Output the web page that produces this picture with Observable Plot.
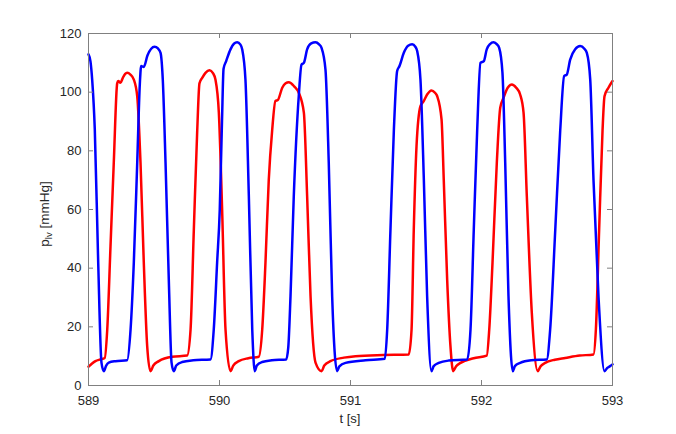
<!DOCTYPE html>
<html>
<head>
<meta charset="utf-8">
<script src="https://cdn.jsdelivr.net/npm/d3@7"></script>
<script src="https://cdn.jsdelivr.net/npm/@observablehq/plot@0.6"></script>
<style>
  html, body { margin: 0; padding: 0; background: #ffffff; }
  #chart { width: 676px; height: 434px; }
</style>
</head>
<body>
<div id="chart"></div>
<script>
// ---- data ----
const xTicks = [589, 590, 591, 592, 593];
const yTicks = [0, 20, 40, 60, 80, 100, 120];
const xLabel = "t [s]";
const yLabelMain = "p";
const yLabelSub = "lv";
const yLabelUnit = " [mmHg]";

const tBlue = [589.000, 589.015, 589.028, 589.048, 589.074, 589.099, 589.117, 589.135, 589.155, 589.206, 589.295,
  589.321, 589.346, 589.372, 589.392, 589.402, 589.422, 589.450, 589.504, 589.530, 589.550, 589.567, 589.588, 589.613,
  589.634, 589.651, 589.670, 589.715, 589.800, 589.931, 589.956, 589.982, 590.002, 590.019, 590.031, 590.051, 590.084,
  590.110, 590.135, 590.160, 590.173, 590.198, 590.224, 590.250, 590.269, 590.285, 590.326, 590.400, 590.509, 590.525,
  590.542, 590.567, 590.605, 590.626, 590.644, 590.669, 590.700, 590.733, 590.760, 590.779, 590.809, 590.834, 590.860,
  590.898, 590.915, 590.962, 591.115, 591.262, 591.280, 591.305, 591.331, 591.356, 591.374, 591.407, 591.440, 591.471,
  591.495, 591.509, 591.534, 591.560, 591.585, 591.618, 591.635, 591.674, 591.750, 591.891, 591.916, 591.941, 591.967,
  591.992, 592.018, 592.040, 592.065, 592.092, 592.118, 592.135, 592.160, 592.181, 592.206, 592.239, 592.255, 592.295,
  592.380, 592.498, 592.524, 592.563, 592.601, 592.631, 592.651, 592.677, 592.715, 592.753, 592.785, 592.804, 592.830,
  592.855, 592.893, 592.939, 592.960, 592.982, 593.000];
const pBlue = [112.9, 110.5, 104.3, 87.3, 42, 7.8, 4.9, 6.8, 7.8, 8.3, 8.6,
  19, 42, 76, 103, 108.9, 108.6, 112.5, 115.5, 114.9, 113.4, 104.3, 76, 36,
  7.8, 4.9, 6.8, 8.0, 8.6, 8.9, 19, 42, 60, 90, 108, 110.6, 114.6,
  116.5, 117, 116.2, 114.6, 104.3, 64.5, 19, 4.9, 6.8, 8.0, 8.6, 8.9, 13,
  30.4, 64.5, 98.6, 109.4, 110, 114.6, 116.6, 117, 116.3, 115.1, 107.7, 76, 30.4,
  4.9, 6.5, 7.7, 8.6, 9.1, 19, 53, 87, 107.2, 108.9, 113.4, 115.8, 116.3,
  115.5, 114, 104.3, 70, 30.4, 4.9, 6.6, 7.7, 8.5, 8.9, 19, 53, 87,
  110, 110.6, 114.6, 116.4, 117, 116.3, 115.1, 106.6, 76, 30.4, 4.9, 6.6, 7.7,
  8.6, 8.9, 19, 53, 87, 105.5, 106, 111.1, 114.6, 115.7, 114.8, 113.4, 104.3,
  70, 30.4, 4.9, 6.0, 6.6, 7.2];

const tRed = [589.000, 589.025, 589.053, 589.090, 589.124, 589.143, 589.168, 589.193, 589.219, 589.227, 589.244,
  589.262, 589.280, 589.295, 589.320, 589.346, 589.372, 589.397, 589.422, 589.448, 589.473, 589.495, 589.537,
  589.639, 589.753, 589.779, 589.804, 589.830, 589.847, 589.868, 589.893, 589.924, 589.950, 589.969, 589.995,
  590.020, 590.046, 590.084, 590.105, 590.147, 590.220, 590.300, 590.326, 590.351, 590.376, 590.402, 590.427,
  590.445, 590.479, 590.505, 590.529, 590.570, 590.605, 590.644, 590.669, 590.695, 590.733, 590.779, 590.800,
  590.847, 590.950, 591.038, 591.250, 591.445, 591.466, 591.483, 591.504, 591.534, 591.560, 591.585, 591.618,
  591.645, 591.662, 591.695, 591.712, 591.738, 591.763, 591.784, 591.805, 591.840, 591.940, 592.040, 592.059,
  592.084, 592.117, 592.143, 592.168, 592.200, 592.231, 592.265, 592.295, 592.321, 592.346, 592.384, 592.430,
  592.450, 592.486, 592.560, 592.639, 592.750, 592.855, 592.873, 592.898, 592.924, 592.939, 592.969, 593.000];
const pRed = [6.4, 7.4, 8.3, 8.9, 9.4, 19, 47.5, 76, 103, 103.8, 103.2,
  104.9, 106.2, 106.6, 106, 104.3, 98.6, 76, 42, 13.4, 4.9, 6.8, 8.3,
  9.8, 10.2, 19, 53, 87, 103, 104.9, 106.6, 107.5, 106.5, 104.3, 93,
  60, 19, 4.9, 6.8, 8.3, 9.3, 9.8, 19, 42, 70, 87, 97,
  97.3, 101.5, 103, 103.4, 102, 99.8, 93, 64.5, 30.4, 7.8, 4.9, 6.8,
  8.3, 9.5, 10, 10.4, 10.6, 19, 53, 81.6, 95.2, 97, 99.2, 100.6,
  99.8, 98.6, 90.7, 70, 36, 13.4, 4.9, 6.5, 7.7, 9.3, 10.2, 19,
  41.8, 76, 94.7, 98.1, 101.5, 102.6, 101.5, 99.2, 93, 64.5, 24.8, 4.9,
  6.5, 7.7, 8.8, 9.4, 10.2, 10.6, 19, 53, 87, 98.6, 101.5, 103.8];

const blue = tBlue.map((t, i) => ({t, p: pBlue[i]}));
const red = tRed.map((t, i) => ({t, p: pRed[i]}));

const W = 676, H = 434;
const mL = 88, mR = 64, mT = 33, mB = 49;
const fw = W - mL - mR, fh = H - mT - mB;
const tick = 5;
const axisColor = "#808080";
const textColor = "#262626";

const svg = Plot.plot({
  width: W, height: H,
  marginLeft: mL, marginRight: mR, marginTop: mT, marginBottom: mB,
  x: {domain: [589, 593]},
  y: {domain: [0, 120]},
  style: {fontFamily: "'Liberation Sans', Arial, sans-serif", fontSize: "13px", color: textColor, background: "#ffffff"},
  marks: [
    Plot.line(red, {x: "t", y: "p", stroke: "#ff0000", strokeWidth: 2.5, strokeLinejoin: "round", curve: "monotone-x"}),
    Plot.line(blue, {x: "t", y: "p", stroke: "#0000ff", strokeWidth: 2.5, strokeLinejoin: "round", curve: "monotone-x"}),
    Plot.frame({stroke: axisColor, strokeWidth: 1}),
    Plot.tickX(xTicks, {x: d => d, insetTop: fh - tick, stroke: axisColor}),
    Plot.tickX(xTicks, {x: d => d, insetBottom: fh - tick, stroke: axisColor}),
    Plot.tickY(yTicks, {y: d => d, insetRight: fw - tick, stroke: axisColor}),
    Plot.tickY(yTicks, {y: d => d, insetLeft: fw - tick, stroke: axisColor}),
    Plot.axisX({ticks: xTicks, tickSize: 0, tickPadding: 10, tickFormat: d => String(d), label: null}),
    Plot.axisY({ticks: yTicks, tickSize: 0, tickPadding: 7, tickFormat: d => String(d), label: null})
  ]
});

const s = d3.select(svg);
s.append("text")
  .attr("x", mL + fw / 2).attr("y", 423)
  .attr("text-anchor", "middle")
  .attr("fill", textColor)
  .attr("font-size", 13)
  .text(xLabel);

const yl = s.append("text")
  .attr("transform", `translate(49,${mT + fh / 2 + 5}) rotate(-90)`)
  .attr("text-anchor", "middle")
  .attr("fill", textColor)
  .attr("font-size", 13.5);
yl.append("tspan").text(yLabelMain);
yl.append("tspan").attr("dy", 3).attr("font-size", 9.5).text(yLabelSub);
yl.append("tspan").attr("dy", -3).text(yLabelUnit);

document.getElementById("chart").appendChild(svg);
</script>
</body>
</html>
